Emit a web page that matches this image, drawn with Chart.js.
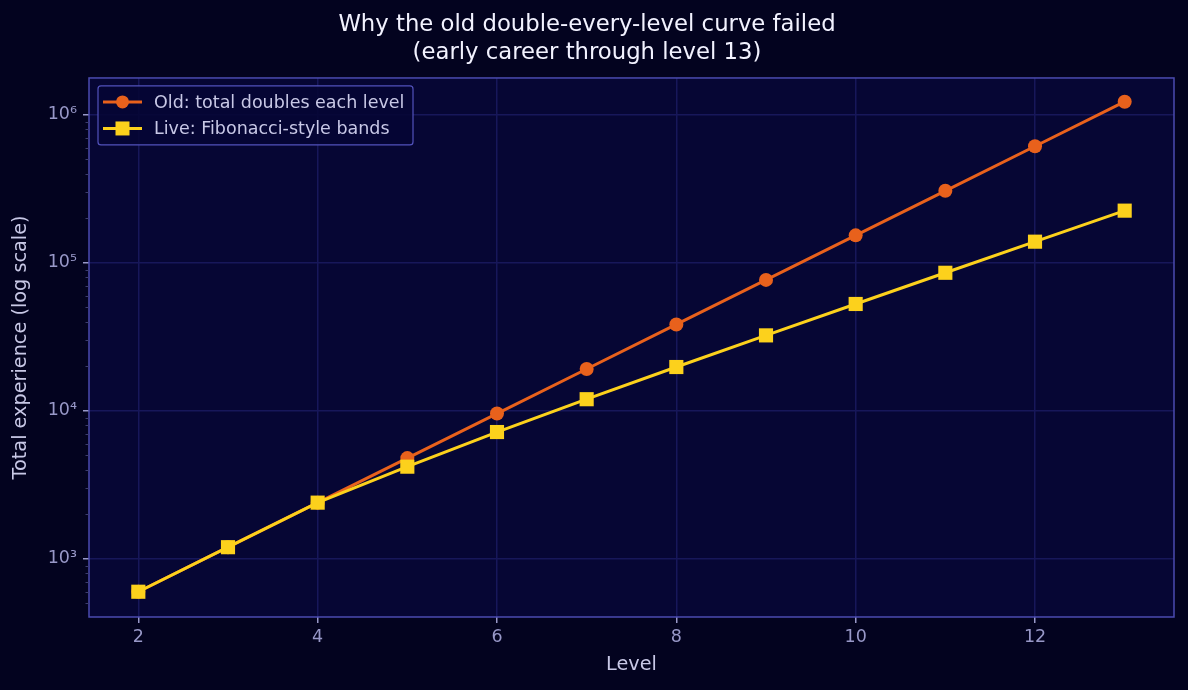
<!DOCTYPE html>
<html>
<head>
<meta charset="utf-8">
<script src="https://cdn.jsdelivr.net/npm/chart.js@4/dist/chart.umd.min.js"></script>
<style>
  html, body { margin: 0; padding: 0; background: #03031f; }
  #wrap { width: 1188px; height: 690px; }
</style>
</head>
<body>
<div id="wrap"><canvas id="xpChart" width="1188" height="690"></canvas></div>
<script>
'use strict';

// Levels and total experience
const levels = [2, 3, 4, 5, 6, 7, 8, 9, 10, 11, 12, 13];
const oldTotals = [600, 1200, 2400, 4800, 9600, 19200, 38400, 76800, 153600, 307200, 614400, 1228800];
const liveTotals = [600, 1200, 2400, 4200, 7200, 12000, 19800, 32400, 52800, 85800, 139200, 225600];
const xTicks = [2, 4, 6, 8, 10, 12];
const yPowers = [3, 4, 5, 6];
const superDigits = { 3: '\u00b3', 4: '\u2074', 5: '\u2075', 6: '\u2076' };

const palette = {
    page: '#03031f', plot: '#060634', frame: '#4b4bb0', grid: '#17175a',
    tick: '#9898c8', label: '#c8c8e6', title: '#f2f2ff',
    old: '#e8611c', live: '#fcd11c'
};
const FONT = "'DejaVu Sans', sans-serif";

const toPoints = vals => levels.map((lv, i) => ({ x: lv, y: vals[i] }));
const isMajor = v => Math.abs(Math.log10(v) - Math.round(Math.log10(v))) < 1e-9;

// minor log ticks 2..9 x 10^n inside the visible range
function logTicks(min, max) {
    const out = [];
    for (let p = 2; p <= 6; p++) {
        for (let m = 1; m <= 9; m++) {
            const v = m * Math.pow(10, p);
            if (v >= min && v <= max) out.push({ value: v });
        }
    }
    return out;
}

const bgPlugin = {
    id: 'bg',
    beforeDraw(chart) {
        const { ctx, chartArea: a } = chart;
        ctx.save();
        ctx.fillStyle = palette.page;
        ctx.fillRect(0, 0, chart.width, chart.height);
        ctx.fillStyle = palette.plot;
        ctx.fillRect(a.left, a.top, a.right - a.left, a.bottom - a.top);
        ctx.restore();
    },
    afterDatasetsDraw(chart) {
        const { ctx, chartArea: a } = chart;
        ctx.save();
        ctx.strokeStyle = palette.frame;
        ctx.lineWidth = 1.5;
        ctx.strokeRect(a.left, a.top, a.right - a.left, a.bottom - a.top);

        // minor tick marks on the log axis
        const y = chart.scales.y;
        ctx.strokeStyle = '#3c3c70';
        ctx.lineWidth = 1;
        y.ticks.forEach(t => {
            if (isMajor(t.value)) return;
            const py = Math.round(y.getPixelForValue(t.value)) + 0.5;
            ctx.beginPath();
            ctx.moveTo(a.left - 3.5, py);
            ctx.lineTo(a.left, py);
            ctx.stroke();
        });

        // legend box inside the plot, upper left
        const bx = a.left + 9, by = a.top + 8, bw = 315, bh = 59;
        ctx.fillStyle = 'rgba(6,6,52,0.9)';
        ctx.strokeStyle = '#5252bc';
        ctx.lineWidth = 1.2;
        ctx.beginPath();
        ctx.roundRect(bx, by, bw, bh, 3);
        ctx.fill();
        ctx.stroke();
        ctx.font = '17.5px ' + FONT;
        ctx.textBaseline = 'middle';
        chart.data.datasets.forEach((ds, i) => {
            const ry = by + 16 + i * 26.5;
            ctx.strokeStyle = ds.borderColor;
            ctx.lineWidth = 3;
            ctx.beginPath();
            ctx.moveTo(bx + 5, ry);
            ctx.lineTo(bx + 44, ry);
            ctx.stroke();
            ctx.fillStyle = ds.borderColor;
            if (ds.pointStyle === 'circle') {
                ctx.beginPath();
                ctx.arc(bx + 24.5, ry, 6.5, 0, Math.PI * 2);
                ctx.fill();
            } else {
                ctx.fillRect(bx + 17.5, ry - 7, 14, 14);
            }
            ctx.fillStyle = palette.label;
            ctx.fillText(ds.label, bx + 56, ry + 1);
        });
        ctx.restore();
    }
};

function createChart() {
    const ctx = document.querySelector('#xpChart').getContext('2d');
    return new Chart(ctx, {
        type: 'line',
        data: {
            datasets: [
                {
                    label: 'Old: total doubles each level',
                    data: toPoints(oldTotals),
                    borderColor: palette.old,
                    backgroundColor: palette.old,
                    borderWidth: 3,
                    pointStyle: 'circle',
                    pointRadius: 7,
                    pointBorderWidth: 0,
                    tension: 0,
                    order: 2
                },
                {
                    label: 'Live: Fibonacci-style bands',
                    data: toPoints(liveTotals),
                    borderColor: palette.live,
                    backgroundColor: palette.live,
                    borderWidth: 3,
                    pointStyle: 'rect',
                    pointRadius: 10,
                    pointBorderWidth: 0,
                    tension: 0,
                    order: 1
                }
            ]
        },
        options: {
            responsive: false,
            animation: false,
            layout: { padding: { left: 0, right: 14, top: 0, bottom: 0 } },
            plugins: {
                legend: { display: false },
                tooltip: { enabled: false },
                title: {
                    display: true,
                    text: ['Why the old double-every-level curve failed', '(early career through level 13)'],
                    color: palette.title,
                    font: { family: FONT, size: 22.75, weight: 'normal', lineHeight: 1.23 },
                    padding: { top: 11, bottom: 11 }
                }
            },
            scales: {
                x: {
                    type: 'linear',
                    min: 1.45,
                    max: 13.55,
                    afterBuildTicks: s => { s.ticks = xTicks.map(v => ({ value: v })); },
                    afterFit: s => { s.height = 73; },
                    ticks: { color: palette.tick, font: { family: FONT, size: 17.5 }, padding: 4, autoSkip: false, maxRotation: 0 },
                    grid: { color: palette.grid, lineWidth: 1.5, tickLength: 6, tickColor: palette.tick, drawTicks: true },
                    border: { display: false },
                    title: { display: true, text: 'Level', color: palette.label, font: { family: FONT, size: 19.25 }, padding: { top: 0, bottom: 13.5 } }
                },
                y: {
                    type: 'logarithmic',
                    min: 405,
                    max: 1778000,
                    afterBuildTicks: s => { s.ticks = logTicks(s.min, s.max); },
                    afterFit: s => { s.width = 89; },
                    ticks: {
                        color: palette.tick,
                        font: { family: FONT, size: 17.5 },
                        padding: 6,
                        autoSkip: false,
                        callback: v => {
                            const p = Math.round(Math.log10(v));
                            return isMajor(v) && yPowers.includes(p) ? '10' + superDigits[p] : '';
                        }
                    },
                    grid: {
                        color: c => (c.tick && isMajor(c.tick.value)) ? palette.grid : 'rgba(0,0,0,0)',
                        tickColor: c => (c.tick && isMajor(c.tick.value)) ? palette.tick : 'rgba(0,0,0,0)',
                        lineWidth: 1.5,
                        tickLength: 6
                    },
                    border: { display: false },
                    title: { display: true, text: 'Total experience (log scale)', color: palette.label, font: { family: FONT, size: 19.25 }, padding: { top: 9.5, bottom: 0 } }
                }
            }
        },
        plugins: [bgPlugin]
    });
}

createChart();
</script>
</body>
</html>
